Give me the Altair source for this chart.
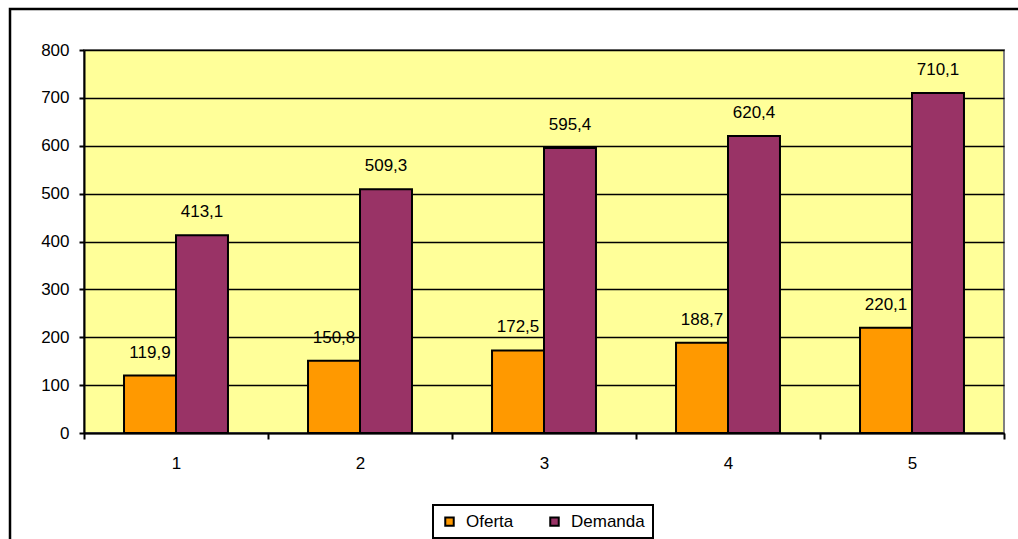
import altair as alt
import pandas as pd

categories = ["1", "2", "3", "4", "5"]
oferta = [119.9, 150.8, 172.5, 188.7, 220.1]
demanda = [413.1, 509.3, 595.4, 620.4, 710.1]
series = ["Oferta", "Demanda"]
colors = ["#FF9900", "#993366"]
y_ticks = [0, 100, 200, 300, 400, 500, 600, 700, 800]

rows = []
for c, o, d in zip(categories, oferta, demanda):
    rows.append({"cat": c, "serie": "Oferta", "valor": o})
    rows.append({"cat": c, "serie": "Demanda", "valor": d})
df = pd.DataFrame(rows)
df["etiqueta"] = df["valor"].map(lambda v: f"{v:.1f}".replace(".", ","))

FONT = "Liberation Sans"
FS = 17

x_enc = alt.X("cat:N", sort=categories, title=None,
              scale=alt.Scale(paddingInner=0, paddingOuter=0),
              axis=alt.Axis(labelAngle=0, tickBand="extent", domainColor="black",
                            domainWidth=2, tickColor="black", tickWidth=2, tickSize=6,
                            labelFontSize=FS, labelColor="black", labelFont=FONT,
                            labelPadding=16, grid=False))
xo_enc = alt.XOffset("serie:N", sort=series,
                     scale=alt.Scale(paddingInner=0, paddingOuter=0.77))
y_enc = alt.Y("valor:Q", title=None,
              scale=alt.Scale(domain=[0, 800], nice=False),
              axis=alt.Axis(values=y_ticks, domainColor="black", domainWidth=2,
                            tickColor="black", tickWidth=2, tickSize=5,
                            labelFontSize=FS, labelColor="black", labelFont=FONT,
                            labelPadding=10, grid=True, gridColor="black",
                            gridWidth=1.5))

base = alt.Chart(df)

bars = base.mark_bar(stroke="black", strokeWidth=2).encode(
    x=x_enc,
    xOffset=xo_enc,
    y=y_enc,
    color=alt.Color("serie:N", sort=series,
                    scale=alt.Scale(domain=series, range=colors),
                    legend=alt.Legend(title=None, orient="none", direction="horizontal",
                                      legendX=349, legendY=455,
                                      strokeColor="black", fillColor="white",
                                      padding=8, symbolType="square", symbolSize=72,
                                      symbolStrokeColor="black", symbolStrokeWidth=2,
                                      labelFontSize=FS, labelFont=FONT,
                                      labelColor="black", columnPadding=32,
                                      symbolOffset=0, labelOffset=8)),
)

labels = base.mark_text(fontSize=FS, font=FONT, color="black", baseline="alphabetic",
                        dy=-18).encode(
    x=alt.X("cat:N", sort=categories),
    xOffset=alt.XOffset("serie:N", sort=series),
    y=alt.Y("valor:Q"),
    text="etiqueta:N",
)

frame = alt.Chart(pd.DataFrame({"a": [0]})).mark_rect(
    filled=False, stroke="black", strokeWidth=2.5, clip=False
).encode(x=alt.value(-74), x2=alt.value(940), y=alt.value(-41), y2=alt.value(500))

chart = alt.layer(bars, labels, frame).properties(
    width=920, height=383,
    autosize=alt.AutoSizeParams(type="none"),
    padding={"left": 84, "top": 50, "right": 14, "bottom": 106},
    background="white",
).configure_view(
    fill="#FFFF99", stroke="#808080", strokeWidth=2
).configure_legend(
    strokeWidth=2
)

chart.save("out.html", embed_options={"renderer": "svg", "actions": False})
